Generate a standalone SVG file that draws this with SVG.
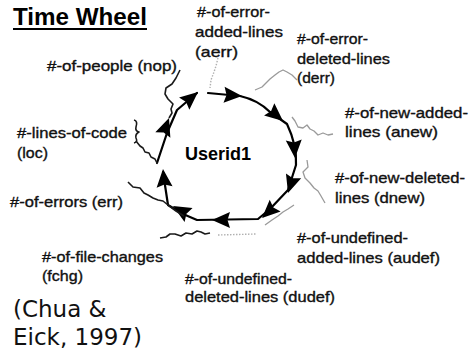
<svg xmlns="http://www.w3.org/2000/svg" width="470" height="354" viewBox="0 0 470 354">
<style>
.lbl{font-family:"Liberation Sans",Arial,sans-serif;font-size:14.5px;fill:#111;stroke:#111;stroke-width:0.35}
.wheel{fill:none;stroke:#000;stroke-width:2.2;stroke-linejoin:round;stroke-linecap:round}
.dark{fill:none;stroke:#1a1a1a;stroke-width:1.6;stroke-linejoin:round}
.light{fill:none;stroke:#9a9a9a;stroke-width:1.3;stroke-linejoin:round}
.dots{fill:none;stroke:#b0b0b0;stroke-width:1.4;stroke-dasharray:1.5 1.5}
</style>
<defs>
<path id="ah" d="M0,0 L-18,-8 L-15.5,0 L-18,8 Z" fill="#000"/>
</defs>
<rect width="470" height="354" fill="#fff"/>

<g id="title">
<text x="13" y="25" font-family="Liberation Sans,Arial,sans-serif" font-weight="bold" font-size="23" textLength="134" lengthAdjust="spacingAndGlyphs" fill="#000">Time Wheel</text>
<line x1="13" y1="29" x2="147" y2="29" stroke="#000" stroke-width="2"/>
</g>

<g id="wheel">
<path class="wheel" d="M208,93 L240,96 Q258,100 270,112 L287,124 Q297,145 296,165 L288,190 L270,209 L258,219 L197,220 L183,214 L168,205 L163,172"/>
<path class="wheel" d="M157,163 L167,133 L177,110 L197,93"/>
<use href="#ah" transform="translate(242,96) rotate(4)"/>
<use href="#ah" transform="translate(283,121) rotate(40)"/>
<use href="#ah" transform="translate(295,158) rotate(86)"/>
<use href="#ah" transform="translate(288,193) rotate(108)"/>
<use href="#ah" transform="translate(262,218) rotate(137)"/>
<use href="#ah" transform="translate(212,220) rotate(180)"/>
<use href="#ah" transform="translate(173,206) rotate(210)"/>
<use href="#ah" transform="translate(163,169) rotate(265)"/>
<use href="#ah" transform="translate(169,118) rotate(290)"/>
<use href="#ah" transform="translate(198,92) rotate(-40)"/>
<text x="185" y="160" font-family="Liberation Sans,Arial,sans-serif" font-weight="bold" font-size="18" fill="#000">Userid1</text>
</g>

<g id="connectors">
<polyline class="dark" points="180,70 176,78 172,84 166,88 165,94 168,99 173,104 171,109 172,113 169,118"/>
<path class="dark" d="M134,120 Q138,121 136,127 Q135,131 139,132 Q135,134 136,138 Q138,142 134,143"/>
<polyline class="dark" points="136,141 140,146 143,148 145,152 149,153 151,157 155,159 157,163"/>
<polyline class="dark" points="128,182 133,187 140,188 144,193 148,195 153,198 158,200 163,201 168,205 176,211 184,216"/>
<polyline class="dark" points="160,238 166,237 170,234 175,234 181,236 186,233 192,234 197,231 201,232 205,234 210,233"/>
<polyline class="dots" points="218,235 256,234"/>
<polyline class="light" points="265,225 272,220 278,216 283,212 288,209 294,205"/>
<polyline class="light" points="307,160 308,167 303,172 305,178 310,183 314,188 318,191 321,196 325,203"/>
<polyline class="light" points="292,117 295,121 298,127 303,128 307,125 310,129 314,131 318,135 323,133 328,135 333,134"/>
<polyline class="light" points="255,90 262,87 266,83 270,79 275,75 279,72 283,70 287,72 292,75 297,80"/>
<polyline class="dots" points="218,58 216,66 214,72 211,80 210,88"/>
</g>

<g id="n-nop"><text class="lbl" x="47" y="71" textLength="130" lengthAdjust="spacingAndGlyphs">#-of-people (nop)</text></g>
<g id="n-aerr">
<text class="lbl" x="197" y="17" textLength="73" lengthAdjust="spacingAndGlyphs">#-of-error-</text>
<text class="lbl" x="195" y="37" textLength="88" lengthAdjust="spacingAndGlyphs">added-lines</text>
<text class="lbl" x="195" y="57" textLength="43" lengthAdjust="spacingAndGlyphs">(aerr)</text>
</g>
<g id="n-derr">
<text class="lbl" x="297" y="44" textLength="71" lengthAdjust="spacingAndGlyphs">#-of-error-</text>
<text class="lbl" x="297" y="64" textLength="93" lengthAdjust="spacingAndGlyphs">deleted-lines</text>
<text class="lbl" x="297" y="83" textLength="38" lengthAdjust="spacingAndGlyphs">(derr)</text>
</g>
<g id="n-anew">
<text class="lbl" x="345" y="118" textLength="123" lengthAdjust="spacingAndGlyphs">#-of-new-added-</text>
<text class="lbl" x="345" y="137" textLength="93" lengthAdjust="spacingAndGlyphs">lines (anew)</text>
</g>
<g id="n-dnew">
<text class="lbl" x="335" y="183" textLength="130" lengthAdjust="spacingAndGlyphs">#-of-new-deleted-</text>
<text class="lbl" x="335" y="203" textLength="90" lengthAdjust="spacingAndGlyphs">lines (dnew)</text>
</g>
<g id="n-audef">
<text class="lbl" x="297" y="243" textLength="111" lengthAdjust="spacingAndGlyphs">#-of-undefined-</text>
<text class="lbl" x="297" y="263" textLength="143" lengthAdjust="spacingAndGlyphs">added-lines (audef)</text>
</g>
<g id="n-dudef">
<text class="lbl" x="185" y="284" textLength="107" lengthAdjust="spacingAndGlyphs">#-of-undefined-</text>
<text class="lbl" x="185" y="302" textLength="150" lengthAdjust="spacingAndGlyphs">deleted-lines (dudef)</text>
</g>
<g id="n-fchg">
<text class="lbl" x="42" y="262" textLength="121" lengthAdjust="spacingAndGlyphs">#-of-file-changes</text>
<text class="lbl" x="42" y="281" textLength="41" lengthAdjust="spacingAndGlyphs">(fchg)</text>
</g>
<g id="n-err"><text class="lbl" x="10" y="207" textLength="113" lengthAdjust="spacingAndGlyphs">#-of-errors (err)</text></g>
<g id="n-loc">
<text class="lbl" x="17" y="138" textLength="110" lengthAdjust="spacingAndGlyphs">#-lines-of-code</text>
<text class="lbl" x="17" y="158" textLength="31" lengthAdjust="spacingAndGlyphs">(loc)</text>
</g>

<g id="citation" font-family="DejaVu Sans,Verdana,sans-serif" font-size="23" fill="#111">
<text x="13" y="317">(Chua &amp;</text>
<text x="13" y="345">Eick, 1997)</text>
</g>
</svg>
